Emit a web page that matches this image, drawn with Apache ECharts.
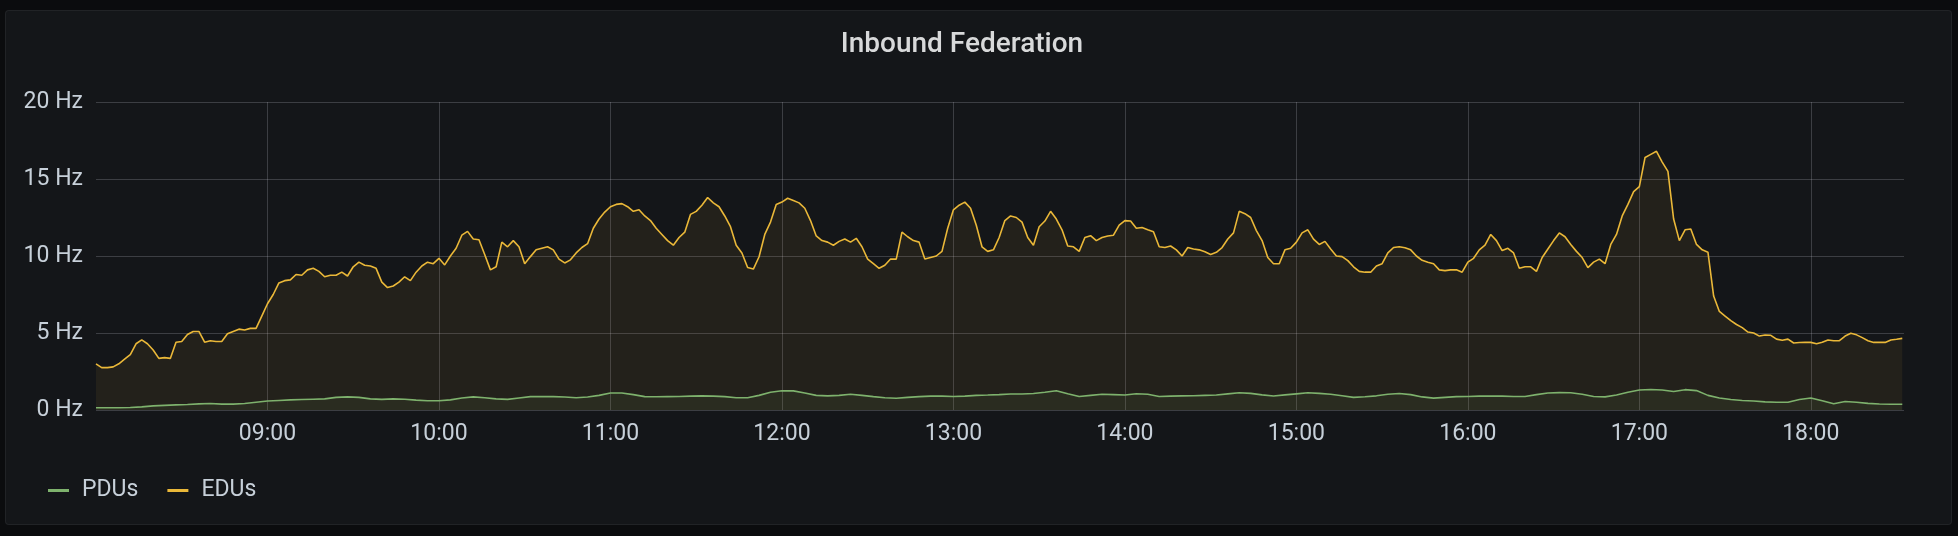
<!DOCTYPE html>
<html>
<head>
<meta charset="utf-8">
<script src="https://cdn.jsdelivr.net/npm/echarts@6/dist/echarts.min.js"></script>
<style>
  html, body { margin: 0; padding: 0; background: #0b0c0e; }
  #panel { position: absolute; left: 5px; top: 10px; width: 1945px; height: 513px;
           background: #141619; border: 1px solid rgba(255,255,255,0.06); border-radius: 4px; }
  #chart { position: absolute; left: 0; top: 0; width: 1958px; height: 536px; }
</style>
</head>
<body>
<div id="panel"></div>
<div id="chart"></div>
<script>
// Time in minutes since midnight; series start at 08:00
const startMinute = 480;
const endMinute = 1112.6;
const eduStep = 2;   // minutes between EDU samples
const pduStep = 4;   // minutes between PDU samples
const seriesNames = ['PDUs', 'EDUs'];
const yTicks = [0, 5, 10, 15, 20];

const eduValues = [
  3.0, 2.75, 2.75, 2.8, 3.0, 3.3, 3.6, 4.3, 4.55, 4.3, 3.9, 3.35, 3.4, 3.35, 4.4, 4.45, 4.9, 5.1, 5.1, 4.4,
  4.5, 4.45, 4.45, 4.95, 5.1, 5.25, 5.2, 5.3, 5.3, 6.1, 6.9, 7.5, 8.25, 8.4, 8.45, 8.8, 8.75, 9.1, 9.2, 9.0,
  8.65, 8.75, 8.75, 8.95, 8.7, 9.3, 9.6, 9.4, 9.35, 9.2, 8.3, 7.95, 8.05, 8.3, 8.65,
  8.4, 8.95, 9.35, 9.6, 9.5, 9.85, 9.42, 10.0, 10.5, 11.35, 11.6, 11.1, 11.05, 10.1, 9.1, 9.3, 10.9, 10.6, 11.0, 10.6,
  9.5, 9.96, 10.4, 10.5, 10.6, 10.4, 9.8, 9.55, 9.75, 10.2, 10.55, 10.8, 11.8, 12.4, 12.85, 13.2, 13.35, 13.4, 13.2, 12.9,
  13.0, 12.6, 12.3, 11.8, 11.4, 11.0, 10.7, 11.2, 11.55, 12.7, 12.9, 13.3, 13.8,
  13.45, 13.2, 12.6, 11.9, 10.7, 10.2, 9.25, 9.15, 9.95, 11.4, 12.2, 13.35, 13.5, 13.75, 13.6, 13.45, 13.1, 12.3, 11.3, 11.0,
  10.9, 10.7, 10.95, 11.1, 10.9, 11.15, 10.6, 9.8, 9.5, 9.2, 9.4, 9.8, 9.8, 11.55, 11.25, 11.0, 10.9, 9.8, 9.9, 10.0,
  10.3, 11.8, 13.0, 13.3, 13.5, 13.1, 12.0, 10.6, 10.3, 10.4, 11.2, 12.3,
  12.6, 12.5, 12.2, 11.2, 10.7, 11.9, 12.27, 12.9, 12.4, 11.7, 10.65, 10.6, 10.3, 11.2, 11.32, 11.0, 11.2, 11.3, 11.35, 12.0,
  12.3, 12.27, 11.8, 11.85, 11.7, 11.58, 10.6, 10.55, 10.65, 10.4, 10.0, 10.55, 10.45, 10.4, 10.28, 10.1, 10.24, 10.55, 11.1, 11.5,
  12.9, 12.75, 12.5, 11.65, 11.0, 9.9, 9.5, 9.5, 10.4, 10.5, 10.9, 11.5, 11.7,
  11.1, 10.75, 10.95, 10.45, 10.0, 9.96, 9.7, 9.3, 9.0, 8.95, 8.95, 9.35, 9.5, 10.2, 10.55, 10.6, 10.54, 10.4, 10.0, 9.72,
  9.6, 9.5, 9.1, 9.05, 9.1, 9.1, 8.95, 9.6, 9.85, 10.4, 10.7, 11.4, 11.0, 10.35, 10.5, 10.2, 9.2, 9.3, 9.3, 9.0,
  9.9, 10.45, 11.0, 11.5, 11.25, 10.75, 10.3, 9.9, 9.25, 9.6, 9.8, 9.5,
  10.75, 11.4, 12.6, 13.35, 14.18, 14.5, 16.4, 16.6, 16.8, 16.1, 15.5, 12.4, 11.0, 11.7, 11.75, 10.75, 10.4, 10.25, 7.4, 6.4,
  6.1, 5.8, 5.55, 5.35, 5.06, 5.0, 4.8, 4.87, 4.85, 4.6, 4.53, 4.6, 4.35, 4.38, 4.39, 4.39, 4.3, 4.4, 4.55, 4.5,
  4.5, 4.8, 4.98, 4.88, 4.7, 4.5, 4.39, 4.39, 4.39, 4.55, 4.59, 4.65
];

const pduValues = [
  0.15, 0.15, 0.15, 0.16, 0.2, 0.27, 0.3, 0.33, 0.36, 0.4, 0.42, 0.38, 0.38, 0.42, 0.5, 0.58, 0.62, 0.66, 0.68, 0.7,
  0.72, 0.82, 0.85, 0.82, 0.72, 0.69, 0.72, 0.7, 0.64, 0.6, 0.6, 0.66, 0.78, 0.85, 0.8, 0.72, 0.69, 0.78, 0.87, 0.88,
  0.87, 0.84, 0.8, 0.84, 0.95, 1.1, 1.1, 1.0, 0.87, 0.86, 0.87, 0.88, 0.9, 0.92, 0.9, 0.87, 0.8, 0.8, 0.95, 1.15,
  1.25, 1.24, 1.1, 0.95, 0.92, 0.95, 1.02, 0.95, 0.87, 0.8, 0.76, 0.82, 0.87, 0.9, 0.9, 0.88, 0.9, 0.95, 0.97, 1.0,
  1.04, 1.04, 1.07, 1.15, 1.25, 1.05, 0.88, 0.95, 1.02, 1.0, 0.97, 1.06, 1.02, 0.88, 0.9, 0.92, 0.93, 0.95, 0.97, 1.05,
  1.12, 1.08, 0.98, 0.91, 0.98, 1.05, 1.12, 1.08, 1.02, 0.92, 0.82, 0.86, 0.92, 1.02, 1.07, 1.0, 0.85, 0.77, 0.82, 0.87,
  0.88, 0.9, 0.91, 0.9, 0.88, 0.88, 1.0, 1.1, 1.13, 1.12, 1.02, 0.88, 0.85, 0.97, 1.15, 1.3, 1.33, 1.3, 1.2, 1.32,
  1.26, 0.95, 0.78, 0.68, 0.62, 0.58, 0.53, 0.5, 0.5, 0.68, 0.78, 0.6, 0.4, 0.55, 0.5, 0.43, 0.39, 0.37, 0.37
];

const eduData = eduValues.map((v, i) => [startMinute + i * eduStep, v]);
const pduData = pduValues.map((v, i) => [startMinute + i * pduStep, v]);

function hhmm(m) {
  const h = Math.floor(m / 60), mm = Math.round(m % 60);
  return String(h).padStart(2, '0') + ':' + String(mm).padStart(2, '0');
}

const FONT = 'Roboto';
const chart = echarts.init(document.getElementById('chart'), null, { renderer: 'canvas' });
chart.setOption({
  backgroundColor: 'transparent',
  animation: false,
  title: {
    text: 'Inbound Federation',
    left: 957, top: 26, textAlign: 'center',
    textStyle: { color: '#d8d9da', fontSize: 28, fontWeight: 500, fontFamily: FONT }
  },
  legend: {
    data: seriesNames,
    left: 43, top: 474,
    icon: 'rect', itemWidth: 21, itemHeight: 3, itemGap: 29,
    textStyle: { color: '#c7d0d9', fontSize: 23, fontFamily: FONT, padding: [0, 0, 0, 8] }
  },
  grid: { left: 96, right: 54, top: 102, bottom: 126, containLabel: false },
  xAxis: {
    type: 'value',
    min: startMinute, max: endMinute, interval: 60,
    axisLine: { show: false }, axisTick: { show: false },
    axisLabel: {
      color: '#c7d0d9', fontSize: 23, fontFamily: FONT, margin: 13,
      showMinLabel: false, showMaxLabel: false,
      formatter: v => (v % 60 === 0 ? hhmm(v) : '')
    },
    splitLine: { show: true, showMinLine: false, showMaxLine: false,
                 lineStyle: { color: 'rgba(204,204,220,0.22)', width: 1 } }
  },
  yAxis: {
    type: 'value',
    min: yTicks[0], max: yTicks[yTicks.length - 1], interval: 5,
    axisLine: { show: false }, axisTick: { show: false },
    axisLabel: { color: '#c7d0d9', fontSize: 23, fontFamily: FONT, margin: 13,
                 formatter: v => v + ' Hz' },
    splitLine: { lineStyle: { color: 'rgba(204,204,220,0.22)', width: 1 } }
  },
  series: [
    {
      name: 'PDUs', type: 'line', data: pduData, showSymbol: false, symbol: 'none',
      lineStyle: { color: '#7EB26D', width: 1.6 }, itemStyle: { color: '#7EB26D' },
      areaStyle: { color: 'rgba(126,178,109,0.1)' }
    },
    {
      name: 'EDUs', type: 'line', data: eduData, showSymbol: false, symbol: 'none',
      lineStyle: { color: '#EAB839', width: 1.6 }, itemStyle: { color: '#EAB839' },
      areaStyle: { color: 'rgba(234,184,57,0.1)' }
    }
  ]
});
</script>
</body>
</html>
